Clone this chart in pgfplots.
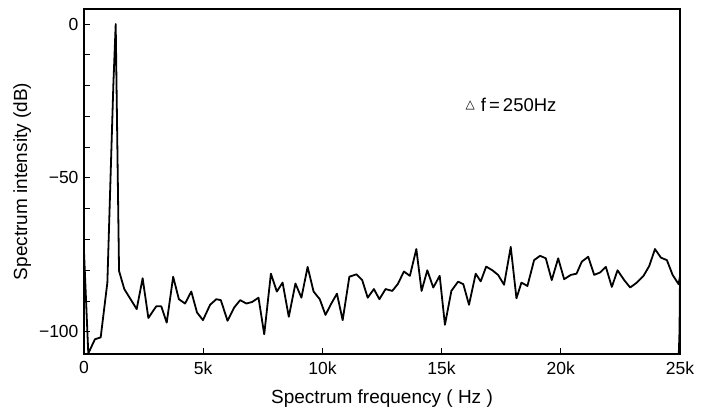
\documentclass[border=0pt]{standalone}
\usepackage{fontspec}
\setmainfont{Liberation Sans}
\newfontfamily\dejavu{DejaVu Sans}
\usepackage{pgfplots}
\usetikzlibrary{calc}
\pgfplotsset{compat=1.18}
\begin{document}
\begin{tikzpicture}
\begin{axis}[
  scale only axis,
  width=596pt, height=345pt,
  xmin=0, xmax=25, ymin=-107.2, ymax=4.9,
  axis line style={line width=1.2pt},
  xtick={0,5,10,15,20,25},
  xticklabels={0,5k,10k,15k,20k,25k},
  ytick={-100,-50,0},
  yticklabels={−100,−50,0},
  minor ytick={-90,-80,-70,-60,-40,-30,-20,-10},
  xtick pos=bottom, ytick pos=left,
  tick align=inside,
  major tick length=6pt, minor tick length=6pt,
  tick style={black, line width=1pt},
  ticklabel style={font=\fontsize{17.5}{20}\selectfont},
  xticklabel style={yshift=-4pt},
  yticklabel style={xshift=-2pt},
  xlabel={Spectrum frequency ( Hz )},
  ylabel={Spectrum intensity (dB)},
  label style={font=\fontsize{19}{22}\selectfont},
  xlabel style={yshift=-8pt},
  ylabel style={yshift=1pt},
  clip=true,
]
\addplot[black, line width=1.8pt, line join=round] coordinates {
(0,-74) (0.18,-107) (0.46,-102.4) (0.70,-101.8) (0.98,-84) (1.23,-20) (1.33,0)
(1.47,-80.2) (1.69,-86.1) (2.21,-92.6) (2.46,-82.6) (2.70,-95.5) (3.03,-91.7)
(3.24,-91.7) (3.47,-97) (3.74,-82.1) (3.98,-89.4) (4.24,-90.8) (4.50,-86.9)
(4.74,-93.7) (4.99,-96.2) (5.29,-91.2) (5.55,-89.4) (5.74,-89.7) (6.02,-96.4)
(6.30,-92.1) (6.55,-89.7) (6.81,-90.8) (7.05,-90.3) (7.32,-88.9) (7.56,-100.8)
(7.84,-81.1) (8.09,-86.9) (8.33,-84) (8.59,-95.1) (8.87,-84.3) (9.12,-88.9)
(9.38,-78.9) (9.63,-86.9) (9.89,-89.4) (10.13,-94.5) (10.36,-91) (10.61,-87.6)
(10.85,-96.2) (11.13,-82.1) (11.43,-81.3) (11.67,-83.2) (11.90,-88.9) (12.16,-86.1)
(12.39,-89.4) (12.65,-86.1) (12.93,-86.7) (13.16,-84.5) (13.42,-80.4) (13.67,-81.8)
(13.94,-73.1) (14.16,-86.7) (14.40,-80) (14.65,-85.6) (14.92,-81.8) (15.14,-97.7)
(15.41,-86.7) (15.69,-83.7) (15.91,-84.5) (16.15,-91.2) (16.43,-81.1) (16.64,-83.6)
(16.87,-78.8) (17.13,-80) (17.37,-81.5) (17.62,-84.7) (17.90,-72.4) (18.14,-89.1)
(18.35,-84) (18.60,-85.1) (18.88,-76.7) (19.13,-75.3) (19.37,-76.1) (19.62,-83.2)
(19.89,-76.1) (20.14,-82.9) (20.42,-81.5) (20.66,-81.1) (20.88,-77.2) (21.15,-75.6)
(21.40,-81.5) (21.65,-80.7) (21.89,-78.9) (22.14,-85.4) (22.38,-80) (22.66,-83.2)
(22.91,-85.6) (23.19,-84) (23.47,-81.8) (23.71,-78.6) (23.95,-73.1) (24.20,-75.9)
(24.45,-76.7) (24.69,-81.5) (24.94,-84.5) (25.0,-82) (24.98,-99.7) (24.95,-107)
};
\node[anchor=west, inner sep=0pt, font=\fontsize{18.5}{20}\selectfont] at (axis cs:16.0,-26.3) {\raisebox{3pt}{\dejavu\fontsize{12}{12}\selectfont △}\hspace{6pt}f\,=\,250Hz};
\end{axis}
\path (current axis.south west) ++(-84pt,-58pt) rectangle ($(current axis.north east)+(23pt,9pt)$);
\end{tikzpicture}
\end{document}
